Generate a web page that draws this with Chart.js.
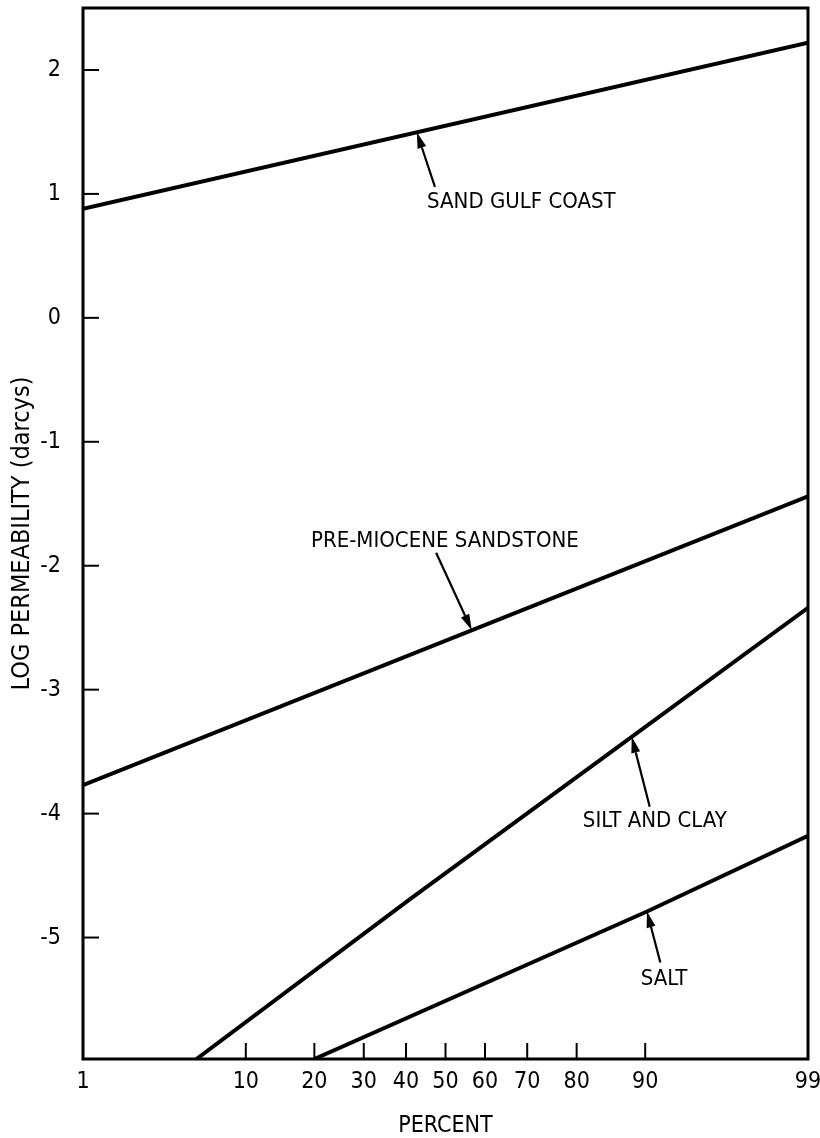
<!DOCTYPE html>
<html>
<head>
<meta charset="utf-8">
<script src="https://cdn.jsdelivr.net/npm/chart.js@4.4.1/dist/chart.umd.min.js"></script>
<style>
  body { margin: 0; background: #fff; }
  #wrap { width: 820px; height: 1138px; }
</style>
</head>
<body>
<div id="wrap"><canvas id="myChart"></canvas></div>
<script>
// tick labels
var percentTicks = [1, 10, 20, 30, 40, 50, 60, 70, 80, 90, 99];
var logTicks = [2, 1, 0, -1, -2, -3, -4, -5];

// curves: cumulative percent -> log permeability (darcys)
var sandGulfPct = [1, 99];
var sandGulfLog = [0.88, 2.22];
var preMiocenePct = [1, 99];
var preMioceneLog = [-3.77, -1.44];
var siltClayPct = [5.5, 41, 99];
var siltClayLog = [-5.98, -4.69, -2.34];
var saltPct = [20, 90.2, 99];
var saltLog = [-5.98, -4.79, -4.18];

var seriesNames = ['SAND GULF COAST', 'PRE-MIOCENE SANDSTONE', 'SILT AND CLAY', 'SALT'];

var narrow = "'Liberation Sans Narrow', 'DejaVu Sans Condensed', 'Roboto Condensed', sans-serif";

// inverse of the normal cdf (Acklam), gives the probability-paper x position
function probit(p) {
  var a = [-3.969683028665376e+01, 2.209460984245205e+02, -2.759285104469687e+02, 1.383577518672690e+02, -3.066479806614716e+01, 2.506628277459239e+00];
  var b = [-5.447609879822406e+01, 1.615858368580409e+02, -1.556989798598866e+02, 6.680131188771972e+01, -1.328068155288572e+01];
  var c = [-7.784894002430293e-03, -3.223964580411365e-01, -2.400758277161838e+00, -2.549732539343734e+00, 4.374664141464968e+00, 2.938163982698783e+00];
  var d = [7.784695709041462e-03, 3.224671290700398e-01, 2.445134137142996e+00, 3.754408661907416e+00];
  var pl = 0.02425, q, r;
  if (p < pl) {
    q = Math.sqrt(-2 * Math.log(p));
    return (((((c[0]*q+c[1])*q+c[2])*q+c[3])*q+c[4])*q+c[5]) / ((((d[0]*q+d[1])*q+d[2])*q+d[3])*q+1);
  }
  if (p > 1 - pl) {
    q = Math.sqrt(-2 * Math.log(1 - p));
    return -(((((c[0]*q+c[1])*q+c[2])*q+c[3])*q+c[4])*q+c[5]) / ((((d[0]*q+d[1])*q+d[2])*q+d[3])*q+1);
  }
  q = p - 0.5; r = q * q;
  return (((((a[0]*r+a[1])*r+a[2])*r+a[3])*r+a[4])*r+a[5])*q / (((((b[0]*r+b[1])*r+b[2])*r+b[3])*r+b[4])*r+1);
}
function toZ(pct) { return probit(pct / 100); }

function makeSeries(pcts, logs) {
  return pcts.map(function(p, i) { return { x: toZ(p), y: logs[i] }; });
}

// callouts: arrow tip sits on the curve at `tip` percent
var callouts = [
  { series: 0, tip: 42.7, tail: [47.3, 1.056], at: [45.3, 0.935] },
  { series: 1, tip: 56.7, tail: [47.6, -1.895], at: [19.4, -1.806] },
  { series: 2, tip: 88.4, tail: [90.5, -3.944], at: [81.1, -4.065] },
  { series: 3, tip: 90.2, tail: [91.6, -5.202], at: [89.5, -5.339] }
];

function valueOn(data, z) {
  for (var i = 0; i < data.length - 1; i++) {
    if (z >= data[i].x && z <= data[i + 1].x) {
      var t = (z - data[i].x) / (data[i + 1].x - data[i].x);
      return data[i].y + t * (data[i + 1].y - data[i].y);
    }
  }
  return data[data.length - 1].y;
}

// no extra room for half labels at the ends of the axes
function noEdgePadding(s) {
  s.paddingTop = 0; s.paddingBottom = 0; s.paddingLeft = 0; s.paddingRight = 0;
}

var framePlugin = {
  id: 'frame',
  afterDraw: function(chart) {
    var ctx = chart.ctx, a = chart.chartArea;
    var xs = chart.scales.x, ys = chart.scales.y;
    ctx.save();
    ctx.strokeStyle = '#000';
    ctx.fillStyle = '#000';
    ctx.lineWidth = 3;
    ctx.strokeRect(a.left, a.top, a.right - a.left, a.bottom - a.top);

    // inward tick marks
    ctx.lineWidth = 2;
    percentTicks.slice(1, -1).forEach(function(p) {
      var x = xs.getPixelForValue(toZ(p));
      ctx.beginPath(); ctx.moveTo(x, a.bottom); ctx.lineTo(x, a.bottom - 16); ctx.stroke();
    });
    logTicks.forEach(function(v) {
      var y = ys.getPixelForValue(v);
      ctx.beginPath(); ctx.moveTo(a.left, y); ctx.lineTo(a.left + 16, y); ctx.stroke();
    });

    // callout labels and arrows
    ctx.font = '22px ' + narrow;
    ctx.textAlign = 'left';
    ctx.textBaseline = 'middle';
    callouts.forEach(function(c) {
      var data = chart.data.datasets[c.series].data;
      var tz = toZ(c.tip);
      var tx = xs.getPixelForValue(tz), ty = ys.getPixelForValue(valueOn(data, tz));
      var sx = xs.getPixelForValue(toZ(c.tail[0])), sy = ys.getPixelForValue(c.tail[1]);
      var ang = Math.atan2(ty - sy, tx - sx);
      var hl = 16, hw = 4.5;
      var bx = tx - hl * Math.cos(ang), by = ty - hl * Math.sin(ang);
      ctx.lineWidth = 2.2;
      ctx.beginPath(); ctx.moveTo(sx, sy); ctx.lineTo(bx, by); ctx.stroke();
      ctx.beginPath();
      ctx.moveTo(tx, ty);
      ctx.lineTo(bx + hw * Math.sin(ang), by - hw * Math.cos(ang));
      ctx.lineTo(bx - hw * Math.sin(ang), by + hw * Math.cos(ang));
      ctx.closePath(); ctx.fill();
      ctx.fillText(seriesNames[c.series], xs.getPixelForValue(toZ(c.at[0])), ys.getPixelForValue(c.at[1]));
    });
    ctx.restore();
  }
};

var lineStyle = { borderColor: '#000', borderWidth: 4, pointRadius: 0, showLine: true, fill: false, tension: 0 };

var ctx = document.getElementById('myChart').getContext('2d');
var chart = new Chart(ctx, {
  type: 'scatter',
  data: {
    datasets: [
      Object.assign({ label: seriesNames[0], data: makeSeries(sandGulfPct, sandGulfLog) }, lineStyle),
      Object.assign({ label: seriesNames[1], data: makeSeries(preMiocenePct, preMioceneLog) }, lineStyle),
      Object.assign({ label: seriesNames[2], data: makeSeries(siltClayPct, siltClayLog) }, lineStyle),
      Object.assign({ label: seriesNames[3], data: makeSeries(saltPct, saltLog) }, lineStyle)
    ]
  },
  options: {
    responsive: true,
    maintainAspectRatio: false,
    animation: false,
    layout: { padding: { top: 8, right: 12, left: 0, bottom: 0 } },
    plugins: { legend: { display: false }, tooltip: { enabled: false } },
    scales: {
      x: {
        type: 'linear',
        min: toZ(1),
        max: toZ(99),
        afterBuildTicks: function(s) { s.ticks = percentTicks.map(function(p) { return { value: toZ(p) }; }); },
        afterFit: function(s) { s.height = 79; noEdgePadding(s); },
        grid: { display: false, drawTicks: false },
        border: { display: false },
        ticks: {
          autoSkip: false, maxRotation: 0, padding: 12, color: '#000',
          font: { family: narrow, size: 23, lineHeight: 1 },
          callback: function(v, i) { return String(percentTicks[i]); }
        },
        title: {
          display: true, text: 'PERCENT', color: '#000',
          font: { family: narrow, size: 23, lineHeight: 1 },
          padding: { top: 0, bottom: 0 }
        }
      },
      y: {
        type: 'linear',
        min: -5.98,
        max: 2.5,
        afterBuildTicks: function(s) { s.ticks = logTicks.map(function(v) { return { value: v }; }); },
        afterFit: function(s) { s.width = 83; noEdgePadding(s); },
        grid: { display: false, drawTicks: false },
        border: { display: false },
        ticks: {
          autoSkip: false, padding: 22, color: '#000',
          font: { family: narrow, size: 23, lineHeight: 1 },
          callback: function(v) { return String(v); }
        },
        title: {
          display: true, text: 'LOG PERMEABILITY (darcys)', color: '#000',
          font: { family: narrow, size: 25, lineHeight: 1.2 },
          padding: { top: 7, bottom: 0 }
        }
      }
    }
  },
  plugins: [framePlugin]
});
</script>
</body>
</html>
